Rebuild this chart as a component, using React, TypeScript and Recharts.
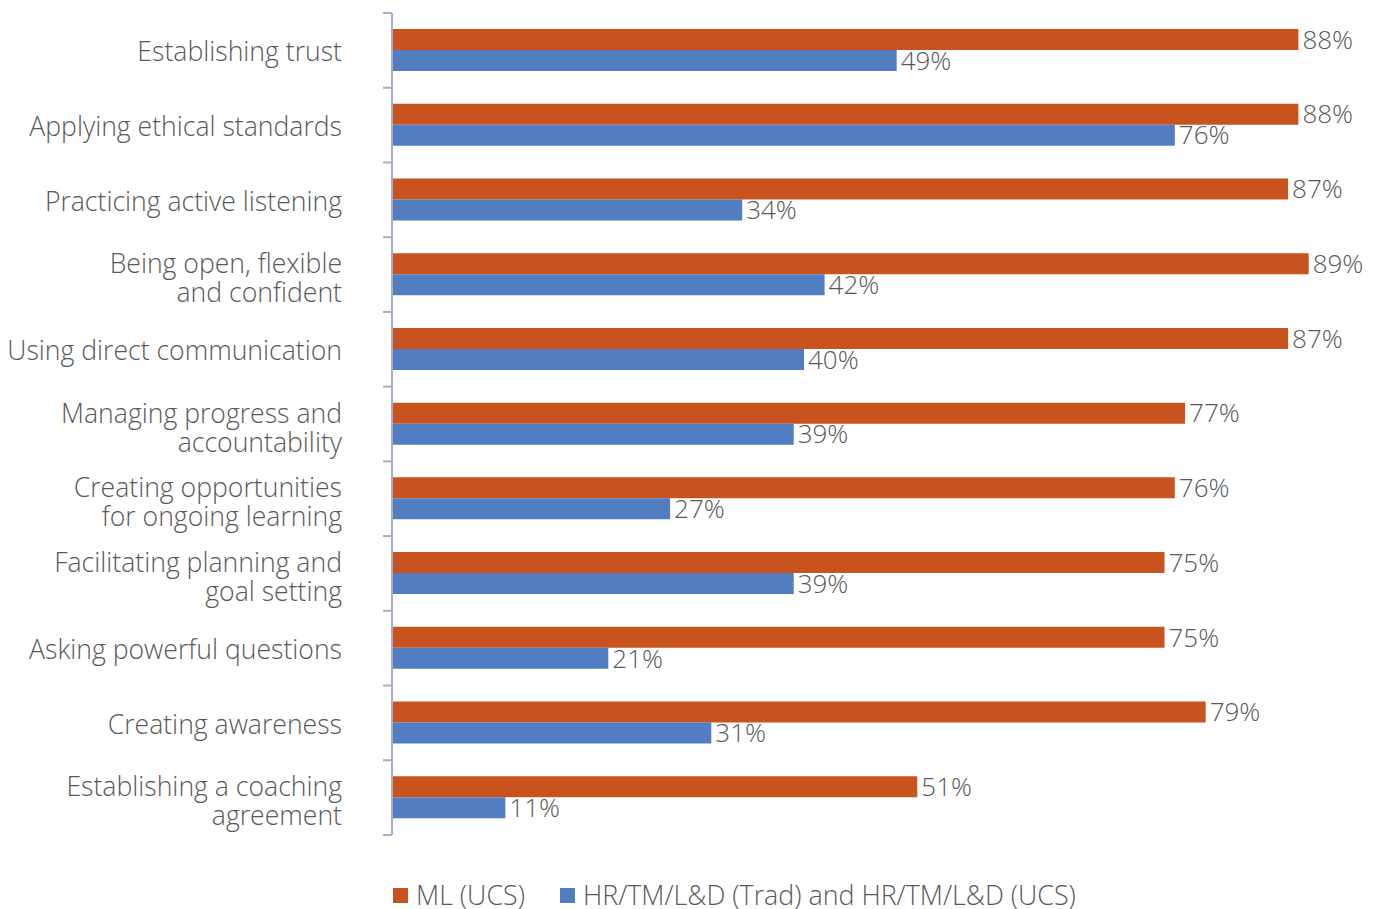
import React from 'react';
import { BarChart, Bar, XAxis, YAxis, Legend, LabelList } from 'recharts';

const categories = [
  'Establishing trust',
  'Applying ethical standards',
  'Practicing active listening',
  'Being open, flexible\nand confident',
  'Using direct communication',
  'Managing progress and\naccountability',
  'Creating opportunities\nfor ongoing learning',
  'Facilitating planning and\ngoal setting',
  'Asking powerful questions',
  'Creating awareness',
  'Establishing a coaching\nagreement',
];

const mlUcs = [88, 88, 87, 89, 87, 77, 76, 75, 75, 79, 51];
const hrTrad = [49, 76, 34, 42, 40, 39, 27, 39, 21, 31, 11];

const seriesNames = ['ML (UCS)', 'HR/TM/L&D (Trad) and HR/TM/L&D (UCS)'];

const ORANGE = '#C8531E';
const BLUE = '#527EC1';
const TEXT = '#595959';
const AXIS = '#A9ACC2';
const FONT = '"Open Sans", "Noto Sans", sans-serif';

const data = categories.map((name, i) => ({
  name,
  ml: mlUcs[i],
  hr: hrTrad[i],
}));

// ticks sit on the band edges, so draw them from the band half-size the axis hands us
function CategoryTick({ x, y, payload, index, visibleTicksCount }: any) {
  const lines: string[] = String(payload.value).split('\n');
  const shift = lines.length > 1 ? 3 : 1;
  const half = payload.offset || 0;
  const isLast = index === visibleTicksCount - 1;
  return (
    <g>
      <line x1={x - 9} x2={x} y1={y - half} y2={y - half} stroke={AXIS} strokeWidth={2} />
      {isLast && <line x1={x - 9} x2={x} y1={y + half} y2={y + half} stroke={AXIS} strokeWidth={2} />}
      {lines.map((line, i) => (
        <text
          key={i}
          x={x - 50}
          y={y + (i - (lines.length - 1) / 2) * 29 + shift}
          textAnchor="end"
          dominantBaseline="central"
          fill={TEXT}
          fontSize={26.6}
          fontWeight={300}
          fontFamily={FONT}
        >
          {line}
        </text>
      ))}
    </g>
  );
}

function LegendContent() {
  const colors = [ORANGE, BLUE];
  return (
    <div style={{ display: 'flex', alignItems: 'center', height: 28, lineHeight: '28px', fontFamily: FONT, fontWeight: 300, fontSize: 26.8, color: TEXT, whiteSpace: 'nowrap' }}>
      {seriesNames.map((n, i) => (
        <div key={n} style={{ display: 'flex', alignItems: 'center', marginRight: 35 }}>
          <span style={{ display: 'inline-block', width: 15, height: 15, background: colors[i], marginRight: 8 }} />
          <span>{n}</span>
        </div>
      ))}
    </div>
  );
}

export default function App() {
  return (
    <div style={{ position: 'absolute', left: 0, top: 0, width: 1380, height: 909, background: '#fff' }}>
      <BarChart
        width={1380}
        height={909}
        data={data}
        layout="vertical"
        margin={{ top: 13, right: 61, left: 0, bottom: 46 }}
        barGap={0}
      >
        <XAxis type="number" domain={[0, 90]} hide />
        <YAxis
          type="category"
          dataKey="name"
          width={392}
          tick={<CategoryTick />}
          tickLine={false}
          tickSize={0}
          tickMargin={0}
          axisLine={{ stroke: AXIS, strokeWidth: 2 }}
          interval={0}
        />
        <Legend
          verticalAlign="bottom"
          content={<LegendContent />}
          wrapperStyle={{ left: 393, top: 881, width: 'auto', height: 28 }}
        />
        <Bar dataKey="ml" name={seriesNames[0]} fill={ORANGE} barSize={21} isAnimationActive={false}>
          <LabelList
            dataKey="ml"
            position="right"
            offset={4}
            formatter={(v: any) => `${v}%`}
            fill={TEXT}
            fontSize={26}
            fontWeight={300}
            fontFamily={FONT}
          />
        </Bar>
        <Bar dataKey="hr" name={seriesNames[1]} fill={BLUE} barSize={21} isAnimationActive={false}>
          <LabelList
            dataKey="hr"
            position="right"
            offset={4}
            formatter={(v: any) => `${v}%`}
            fill={TEXT}
            fontSize={26}
            fontWeight={300}
            fontFamily={FONT}
          />
        </Bar>
      </BarChart>
    </div>
  );
}
